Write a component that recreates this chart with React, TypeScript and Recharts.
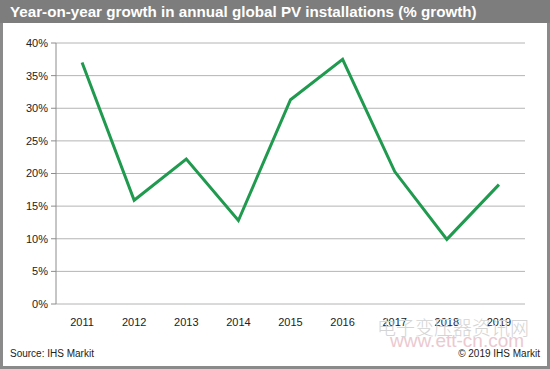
import React from 'react';
import { LineChart, Line, XAxis, YAxis, CartesianGrid } from 'recharts';

const years = ['2011', '2012', '2013', '2014', '2015', '2016', '2017', '2018', '2019'];
const growth = [37.0, 15.9, 22.2, 12.8, 31.3, 37.5, 20.3, 9.9, 18.3];
const yTicks = [0, 5, 10, 15, 20, 25, 30, 35, 40];
const title = 'Year-on-year growth in annual global PV installations (% growth)';
const source = 'Source: IHS Markit';
const copyright = '\u00a9 2019 IHS Markit';

const data = years.map((y, i) => ({ idx: i, year: y, growth: growth[i] }));
const boundaryTicks = years.map((_, i) => i - 0.5).concat([years.length - 0.5]);
const centerTicks = years.map((_, i) => i);

const font = 'Arial, "Liberation Sans", Helvetica, sans-serif';

export default function App() {
  return (
    <div style={{ position: 'absolute', left: 0, top: 0, width: 550, height: 369, background: '#fff', fontFamily: font, overflow: 'hidden' }}>
      <div style={{ position: 'absolute', left: 0, top: 0, width: 550, height: 369, boxSizing: 'border-box', border: '3px solid #8a8a8a' }} />
      <div style={{ position: 'absolute', left: 0, top: 0, width: 550, height: 23, background: '#7d7d7d' }} />
      <div style={{ position: 'absolute', left: 10, top: 3, color: '#fff', fontWeight: 'bold', fontSize: 15.2, lineHeight: '18px', whiteSpace: 'nowrap' }}>{title}</div>
      <div style={{ position: 'absolute', left: 0, top: 0 }}>
        <LineChart width={550} height={369} data={data} margin={{ top: 43, right: 25, bottom: 35, left: 6 }}>
          <CartesianGrid vertical={false} stroke="#b4b4b4" strokeWidth={1} />
          <XAxis
            xAxisId="b"
            dataKey="idx"
            type="number"
            domain={[-0.5, years.length - 0.5]}
            ticks={boundaryTicks}
            tick={false}
            height={0}
            stroke="#8c8c8c"
            tickSize={5}
            interval={0}
          />
          <XAxis
            xAxisId="l"
            dataKey="idx"
            type="number"
            domain={[-0.5, years.length - 0.5]}
            ticks={centerTicks}
            tickFormatter={(v: number) => years[v] ?? ''}
            axisLine={false}
            tickLine={false}
            height={30}
            interval={0}
            tick={{ fill: '#222', fontSize: 11, fontFamily: font }}
            tickMargin={8}
          />
          <YAxis
            domain={[0, 40]}
            ticks={yTicks}
            width={50}
            interval={0}
            tickFormatter={(v: number) => `${v}%`}
            stroke="#8c8c8c"
            tickSize={5}
            tickMargin={3}
            tick={{ fill: '#222', fontSize: 11, fontFamily: font }}
          />
          <Line
            xAxisId="b"
            dataKey="growth"
            stroke="#1f9a4e"
            strokeWidth={3}
            dot={false}
            activeDot={false}
            type="linear"
            isAnimationActive={false}
          />
        </LineChart>
      </div>
      <div style={{ position: 'absolute', left: 377, top: 316, fontSize: 19, color: '#d4d4d4', fontFamily: '"Noto Sans CJK SC", sans-serif', whiteSpace: 'nowrap', lineHeight: '22px', fontWeight: 300 }}>电子变压器资讯网</div>
      <div style={{ position: 'absolute', left: 390, top: 331, fontSize: 19, color: '#ebc9d0', whiteSpace: 'nowrap', lineHeight: '20px' }}>www.ett-cn.com</div>
      <div style={{ position: 'absolute', left: 10, top: 348, fontSize: 10, color: '#222', whiteSpace: 'nowrap', lineHeight: '12px' }}>{source}</div>
      <div style={{ position: 'absolute', right: 10, top: 348, fontSize: 10, color: '#222', whiteSpace: 'nowrap', lineHeight: '12px' }}>{copyright}</div>
    </div>
  );
}
